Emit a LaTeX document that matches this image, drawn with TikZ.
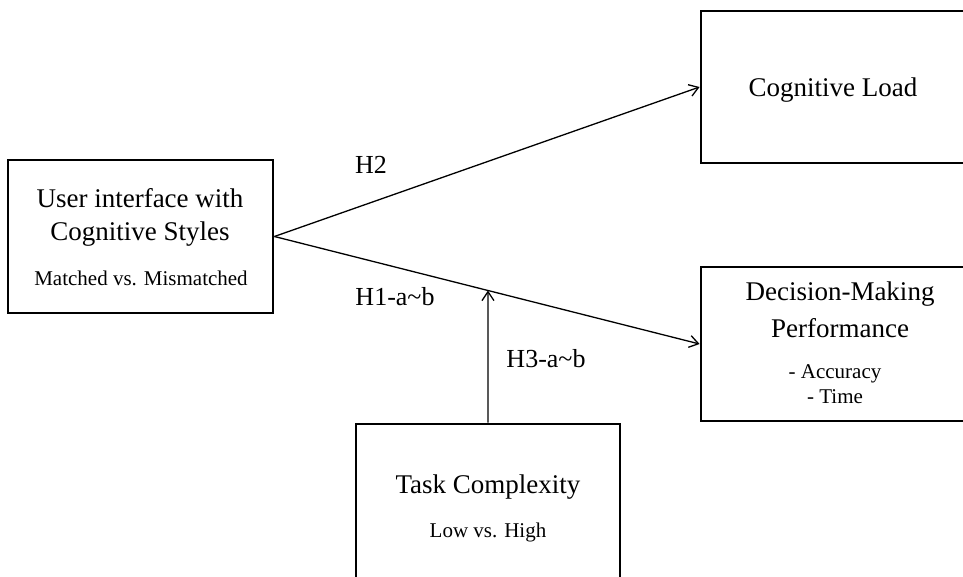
\documentclass[tikz,border=0pt]{standalone}
\usepackage{fontspec}
\setmainfont{Liberation Serif}
\usetikzlibrary{arrows.meta}
\begin{document}
\begin{tikzpicture}[x=1pt,y=-1pt,
  box/.style={draw=black,line width=2.8pt,rectangle,inner sep=0pt},
  big/.style={anchor=base,inner sep=0pt,font=\fontsize{27}{32}\selectfont},
  lab/.style={anchor=base,inner sep=0pt,font=\fontsize{26}{31}\selectfont},
  small/.style={anchor=base,inner sep=0pt,font=\fontsize{21}{25}\selectfont},
  conn/.style={draw=black,line width=1.3pt,-{Straight Barb[length=9pt,width=12pt,line width=1.3pt]}}]
\useasboundingbox (0,0) rectangle (963,577);
\clip (0,0) rectangle (963,577);
% boxes
\node[box,minimum width=265pt,minimum height=153pt] (ui) at (140.5,236.5) {};
\node[box,minimum width=290pt,minimum height=152pt] (cl) at (846,87) {};
\node[box,minimum width=290pt,minimum height=154pt] (dm) at (846,344) {};
\node[box,minimum width=264pt,minimum height=190pt] (tc) at (488,519) {};
% texts
\node[big] (t1) at (140,208) {User interface with};
\node[big] (t2) at (140,241) {Cognitive Styles};
\node[small] (t3) at (141,285) {Matched vs. Mismatched};
\node[big] (t4) at (833,97) {Cognitive Load};
\node[big] (t5) at (840,300) {Decision-Making};
\node[big] (t6) at (840,337) {Performance};
\node[small] (t7) at (835,378) {- Accuracy};
\node[small] (t8) at (835,403) {- Time};
\node[big] (t9) at (488,493) {Task Complexity};
\node[small] (t10) at (488,537) {Low vs. High};
% connectors
\draw[conn] (ui.east) -- (cl.west);
\draw[conn] (ui.east) -- (dm.west);
\coordinate (m) at (intersection of ui.east--dm.west and tc.north--tc.center);
\draw[conn] (tc.north) -- (m);
% labels
\node[lab] (h2) at (371,174) {H2};
\node[lab] (h1) at (395,305) {H1-a\char`\~b};
\node[lab] (h3) at (546,367) {H3-a\char`\~b};
\end{tikzpicture}
\end{document}
